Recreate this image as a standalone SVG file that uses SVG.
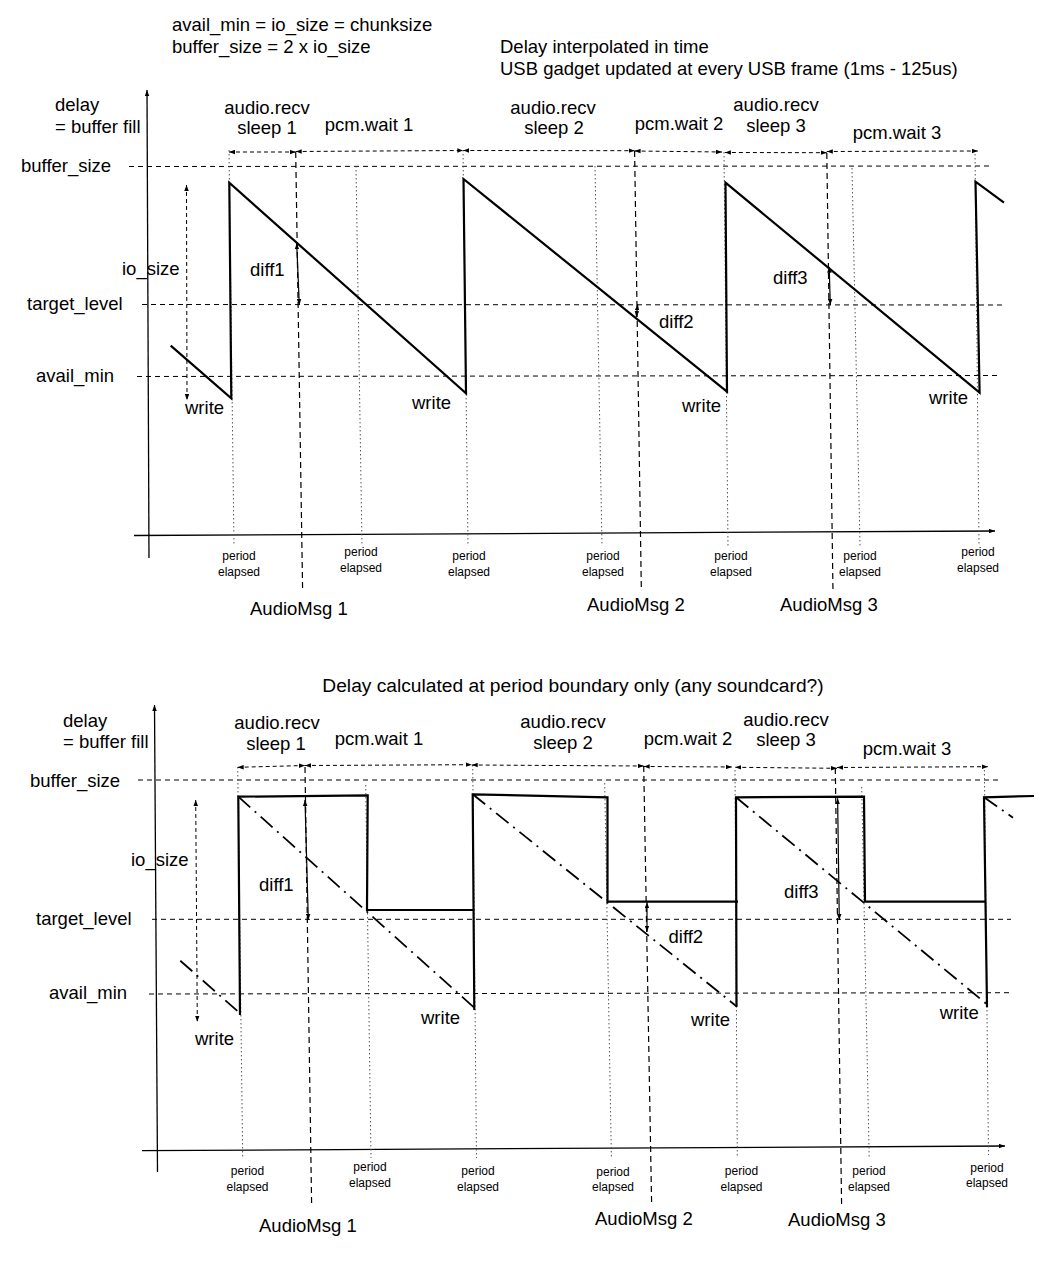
<svg xmlns="http://www.w3.org/2000/svg" width="1049" height="1278" viewBox="0 0 1049 1278">
<style>
text{font-family:"Liberation Sans",Arial,sans-serif;font-size:18.5px;fill:#000}
.sm{font-size:12px;text-anchor:middle}
.mid{text-anchor:middle}
.axis{stroke:#000;stroke-width:1.3;fill:none}
.hd{stroke:#000;stroke-width:1;stroke-dasharray:5,4;fill:none}
.dot{stroke:#555;stroke-width:1;stroke-dasharray:1.5,2.5;fill:none}
.msg{stroke:#000;stroke-width:1.2;stroke-dasharray:6,4;fill:none}
.span{stroke:#000;stroke-width:1;stroke-dasharray:4,3;fill:none}
.saw{stroke:#000;stroke-width:2.2;fill:none;stroke-linejoin:miter}
.dd{stroke:#000;stroke-width:1.8;stroke-dasharray:16,6,2,6;fill:none}
.diff{stroke:#000;stroke-width:1.2;fill:none}
</style>
<defs>
<marker id="ah" viewBox="0 0 8 6" refX="8" refY="3" markerWidth="6" markerHeight="5" markerUnits="userSpaceOnUse" orient="auto-start-reverse">
<path d="M0,0 L8,3 L0,6 z" fill="#000"/>
</marker>
</defs>

<g id="headers">
<text x="172" y="31">avail_min = io_size = chunksize</text>
<text x="172" y="53">buffer_size = 2 x io_size</text>
<text x="500" y="53">Delay interpolated in time</text>
<text x="500" y="75">USB gadget updated at every USB frame (1ms - 125us)</text>
<text x="573" y="692" class="mid" style="font-size:19.2px">Delay calculated at period boundary only (any soundcard?)</text>
</g>

<!-- ===== TOP CHART ===== -->
<g id="top-chart">
<g id="top-axes">
<path class="axis" d="M149,558 L147,90" marker-end="url(#ah)"/>
<path class="axis" d="M134,535.5 L995,531" marker-end="url(#ah)"/>
</g>
<g id="top-levels">
<path class="hd" d="M129,166.5 L991,166"/>
<path class="hd" d="M142,304.5 L1003,305"/>
<path class="hd" d="M137,376.5 L998,375.5"/>
<text x="21" y="172">buffer_size</text>
<text x="27" y="310">target_level</text>
<text x="36" y="382">avail_min</text>
<text x="55" y="111">delay</text>
<text x="55" y="133">= buffer fill</text>
<text x="122" y="275">io_size</text>
</g>
<g id="top-periods">
<path class="dot" d="M229,150 L234,546"/>
<path class="dot" d="M356,166 L362,546"/>
<path class="dot" d="M463,150 L468,546"/>
<path class="dot" d="M595,166 L602,546"/>
<path class="dot" d="M724,152 L728,546"/>
<path class="dot" d="M852,168 L860,546"/>
<path class="dot" d="M975,150 L979,546"/>
<text class="sm" x="239" y="560">period</text><text class="sm" x="239" y="576">elapsed</text>
<text class="sm" x="361" y="556">period</text><text class="sm" x="361" y="572">elapsed</text>
<text class="sm" x="469" y="560">period</text><text class="sm" x="469" y="576">elapsed</text>
<text class="sm" x="603" y="560">period</text><text class="sm" x="603" y="576">elapsed</text>
<text class="sm" x="731" y="560">period</text><text class="sm" x="731" y="576">elapsed</text>
<text class="sm" x="860" y="560">period</text><text class="sm" x="860" y="576">elapsed</text>
<text class="sm" x="978" y="556">period</text><text class="sm" x="978" y="572">elapsed</text>
</g>
<g id="top-msgs">
<path class="msg" d="M295.7,152 L302.6,590"/>
<path class="msg" d="M634.6,151 L641.3,587"/>
<path class="msg" d="M826.8,153 L833,593"/>
<text x="250" y="615">AudioMsg 1</text>
<text x="587" y="611">AudioMsg 2</text>
<text x="780" y="611">AudioMsg 3</text>
</g>
<g id="top-spans">
<path class="span" d="M229,152 L295.7,152" marker-start="url(#ah)" marker-end="url(#ah)"/>
<path class="span" d="M295.7,151.5 L463.3,150.5" marker-start="url(#ah)" marker-end="url(#ah)"/>
<path class="span" d="M463.3,150.5 L634.6,150.7" marker-start="url(#ah)" marker-end="url(#ah)"/>
<path class="span" d="M634.6,151 L722,152" marker-start="url(#ah)" marker-end="url(#ah)"/>
<path class="span" d="M724.9,152.5 L826.8,152.7" marker-start="url(#ah)" marker-end="url(#ah)"/>
<path class="span" d="M826.8,151.5 L977.9,151" marker-start="url(#ah)" marker-end="url(#ah)"/>
<text class="mid" x="267" y="114">audio.recv</text>
<text class="mid" x="267" y="134">sleep 1</text>
<text class="mid" x="369" y="131">pcm.wait 1</text>
<text class="mid" x="553" y="114">audio.recv</text>
<text class="mid" x="554" y="134">sleep 2</text>
<text class="mid" x="679" y="130">pcm.wait 2</text>
<text class="mid" x="776" y="111">audio.recv</text>
<text class="mid" x="776" y="132">sleep 3</text>
<text class="mid" x="897" y="139">pcm.wait 3</text>
</g>
<g id="top-curve">
<path class="span" d="M186.5,185 L187,400" marker-start="url(#ah)" marker-end="url(#ah)"/>
<path class="saw" d="M170.7,345.7 L231.3,398.3 L229.3,182.7 L466,393.3 L463.5,179 L727,391.7 L725.5,182.7 L979.6,392.7 L975.5,181.7 L1004,202.7"/>
<text x="185" y="414">write</text>
<text x="412" y="409">write</text>
<text x="682" y="412">write</text>
<text x="929" y="404">write</text>
</g>
<g id="top-diffs">
<path class="diff" d="M296.7,243.3 L299.3,305" marker-start="url(#ah)" marker-end="url(#ah)"/>
<path class="diff" d="M637.7,304.3 L636.3,317" marker-start="url(#ah)" marker-end="url(#ah)"/>
<path class="diff" d="M829.2,266.7 L830.3,305" marker-start="url(#ah)" marker-end="url(#ah)"/>
<text x="250" y="276">diff1</text>
<text x="659" y="328">diff2</text>
<text x="773" y="284">diff3</text>
</g>
</g>

<!-- ===== BOTTOM CHART ===== -->
<g id="bottom-chart">
<g id="bot-axes">
<path class="axis" d="M157.5,1172 L154.5,705" marker-end="url(#ah)"/>
<path class="axis" d="M142,1150.7 L1005,1146" marker-end="url(#ah)"/>
</g>
<g id="bot-levels">
<path class="hd" d="M138,780 L1001,780"/>
<path class="hd" d="M152,919.3 L1011,919.3"/>
<path class="hd" d="M149,994 L1010,992.7"/>
<text x="30" y="787">buffer_size</text>
<text x="36" y="925">target_level</text>
<text x="49" y="999">avail_min</text>
<text x="63" y="727">delay</text>
<text x="63" y="748">= buffer fill</text>
<text x="131" y="866">io_size</text>
</g>
<g id="bot-periods">
<path class="dot" d="M237.7,767 L242.7,1158"/>
<path class="dot" d="M365.7,785 L371,1158"/>
<path class="dot" d="M472.7,765 L476.5,1158"/>
<path class="dot" d="M604.7,783 L611.4,1158"/>
<path class="dot" d="M735,770 L737.3,1158"/>
<path class="dot" d="M861.7,787 L869.2,1158"/>
<path class="dot" d="M984.4,770 L988.5,1155"/>
<text class="sm" x="247.5" y="1175">period</text><text class="sm" x="247.5" y="1191">elapsed</text>
<text class="sm" x="370" y="1171">period</text><text class="sm" x="370" y="1187">elapsed</text>
<text class="sm" x="478" y="1175">period</text><text class="sm" x="478" y="1191">elapsed</text>
<text class="sm" x="613" y="1176">period</text><text class="sm" x="613" y="1191">elapsed</text>
<text class="sm" x="741.5" y="1175">period</text><text class="sm" x="741.5" y="1191">elapsed</text>
<text class="sm" x="869" y="1175">period</text><text class="sm" x="869" y="1191">elapsed</text>
<text class="sm" x="987" y="1172">period</text><text class="sm" x="987" y="1187">elapsed</text>
</g>
<g id="bot-msgs">
<path class="msg" d="M305,767 L311.6,1203"/>
<path class="msg" d="M643.7,766 L651.6,1203"/>
<path class="msg" d="M835.3,768 L841.6,1205"/>
<text x="259" y="1232">AudioMsg 1</text>
<text x="595" y="1225">AudioMsg 2</text>
<text x="788" y="1226">AudioMsg 3</text>
</g>
<g id="bot-spans">
<path class="span" d="M237.7,767.3 L305,765.5" marker-start="url(#ah)" marker-end="url(#ah)"/>
<path class="span" d="M305,765.5 L471.7,764.7" marker-start="url(#ah)" marker-end="url(#ah)"/>
<path class="span" d="M471.7,765 L643.7,766" marker-start="url(#ah)" marker-end="url(#ah)"/>
<path class="span" d="M643.7,766.5 L731.9,767" marker-start="url(#ah)" marker-end="url(#ah)"/>
<path class="span" d="M735.3,767.3 L837,768.3" marker-start="url(#ah)" marker-end="url(#ah)"/>
<path class="span" d="M837,767.5 L987.8,766.7" marker-start="url(#ah)" marker-end="url(#ah)"/>
<text class="mid" x="277" y="729">audio.recv</text>
<text class="mid" x="276" y="750">sleep 1</text>
<text class="mid" x="379" y="745">pcm.wait 1</text>
<text class="mid" x="563" y="728">audio.recv</text>
<text class="mid" x="563" y="749">sleep 2</text>
<text class="mid" x="688" y="745">pcm.wait 2</text>
<text class="mid" x="786" y="726">audio.recv</text>
<text class="mid" x="786" y="746">sleep 3</text>
<text class="mid" x="907" y="755">pcm.wait 3</text>
</g>
<g id="bot-curve">
<path class="span" d="M195.7,800 L197.3,1021.7" marker-start="url(#ah)" marker-end="url(#ah)"/>
<path class="dd" d="M180.3,960.7 L240,1013.3"/>
<path class="dd" d="M238.3,796.7 L475,1008.3"/>
<path class="dd" d="M472.7,794.3 L737,1006.7"/>
<path class="dd" d="M736,797.3 L987.8,1005"/>
<path class="dd" d="M984,797.3 L1013,817.7"/>
<path class="saw" d="M240,1015 L238.3,796.7 L367.7,795.3 L367,910 L474.3,910"/>
<path class="saw" d="M474.3,1010 L472.7,794.3 L607.5,797.3 L607.5,901.7 L738,901.7"/>
<path class="saw" d="M736.5,1006.7 L736,797.3 L864,796.7 L865,901.7 L985,901.7"/>
<path class="saw" d="M987,1007.3 L984,797.3 L1034,796"/>
<text x="195" y="1045">write</text>
<text x="421" y="1024">write</text>
<text x="691" y="1026">write</text>
<text x="939.7" y="1019">write</text>
</g>
<g id="bot-diffs">
<path class="diff" d="M305,800 L308.3,920" marker-start="url(#ah)" marker-end="url(#ah)"/>
<path class="diff" d="M647,902.3 L647,931.7" marker-start="url(#ah)" marker-end="url(#ah)"/>
<path class="diff" d="M837.6,798.3 L839.3,920" marker-start="url(#ah)" marker-end="url(#ah)"/>
<text x="259" y="891">diff1</text>
<text x="668.5" y="943">diff2</text>
<text x="784" y="898">diff3</text>
</g>
</g>
</svg>
